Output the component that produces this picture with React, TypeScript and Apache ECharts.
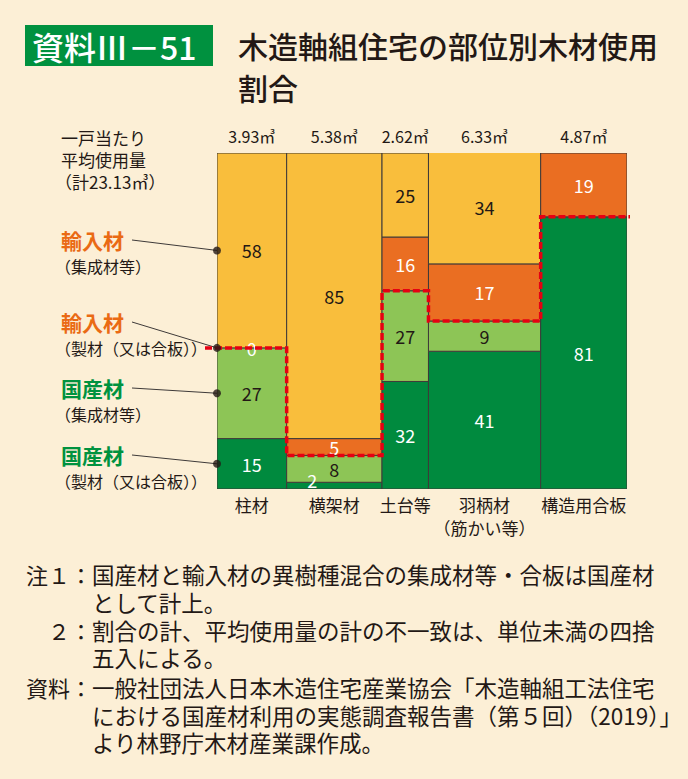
import React, { useEffect, useRef } from "react";
import * as echarts from "echarts";

// ---------- data ----------
const categories = ["柱材", "横架材", "土台等", "羽柄材", "構造用合板"];
const categorySubLabels = ["", "", "", "（筋かい等）", ""];
const volumes = [3.93, 5.38, 2.62, 6.33, 4.87]; // ㎥ per house
const volumeTotalLabel = "23.13";
// shares (%) from bottom to top
const domesticSawn = [15, 2, 32, 41, 81]; // 国産材 製材（又は合板）
const domesticGlulam = [27, 8, 27, 9, null]; // 国産材 集成材等
const importedSawn = [0, 5, 16, 17, 19]; // 輸入材 製材（又は合板）
const importedGlulam = [58, 85, 25, 34, null]; // 輸入材 集成材等

const layers = [domesticSawn, domesticGlulam, importedSawn, importedGlulam];
const layerColors = ["#008A3E", "#8DC556", "#EA6E22", "#F9BE3C"];
const layerTextColors = ["#ffffff", "#231815", "#ffffff", "#231815"];

const FONT = "'Noto Sans CJK JP', 'Noto Sans', sans-serif";
const DARK = "#231815";
const ORANGE = "#EA6A14";
const GREEN = "#00923F";

export default function App() {
  const ref = useRef<HTMLDivElement>(null);

  useEffect(() => {
    if (!ref.current) return;
    const chart = echarts.init(ref.current, null, { renderer: "svg" });

    // cumulative column edges
    const edges: number[] = [0];
    volumes.forEach((v, i) => edges.push(edges[i] + v));
    const total = edges[edges.length - 1];

    // mosaic cells
    const cells: any[] = [];
    categories.forEach((_, i) => {
      let base = 0;
      layers.forEach((arr, k) => {
        const v = arr[i];
        if (v === null || v === undefined) return;
        cells.push([edges[i], edges[i + 1], base, base + v, v, k]);
        base += v;
      });
    });

    const columns = categories.map((_, i) => [edges[i], edges[i + 1], i]);

    const domestic = categories.map(
      (_, i) => (domesticSawn[i] || 0) + (domesticGlulam[i] || 0)
    );

    // marker positions: middle of each layer in first column
    const markerY: number[] = [];
    {
      let base = 0;
      layers.forEach((arr) => {
        const v = arr[0] || 0;
        markerY.push(base + v / 2);
        base += v;
      });
    }

    const t = (text: string, x: number, y: number, opts: any = {}) => ({
      type: "text",
      x,
      y,
      silent: true,
      style: {
        text,
        fill: opts.fill || DARK,
        fontSize: opts.fontSize || 16,
        fontWeight: opts.fontWeight || "normal",
        fontFamily: FONT,
        align: opts.align || "left",
        verticalAlign: "middle",
        textAlign: opts.align || "left",
        textVerticalAlign: "middle",
      },
    });

    const option: any = {
      animation: false,
      backgroundColor: "#FCEFD6",
      textStyle: { fontFamily: FONT },
      grid: { left: 217, right: 61, top: 153, bottom: 290 },
      xAxis: {
        type: "value",
        min: 0,
        max: total,
        show: false,
      },
      yAxis: {
        type: "value",
        min: 0,
        max: 100,
        show: false,
      },
      series: [
        {
          type: "custom",
          name: "mosaic",
          clip: true,
          z: 2,
          data: cells,
          encode: { x: [0, 1], y: [2, 3] },
          renderItem: (params: any, api: any) => {
            const x0 = api.value(0);
            const x1 = api.value(1);
            const y0 = api.value(2);
            const y1 = api.value(3);
            const v = api.value(4);
            const k = api.value(5);
            const p0 = api.coord([x0, y1]);
            const p1 = api.coord([x1, y0]);
            const cx = (p0[0] + p1[0]) / 2;
            let cy = (p0[1] + p1[1]) / 2;
            let dx = 0;
            if (v > 0 && v <= 2) {
              dx = -22;
              cy -= 6;
            }
            const children: any[] = [];
            if (v > 0) {
              children.push({
                type: "rect",
                shape: {
                  x: p0[0],
                  y: p0[1],
                  width: p1[0] - p0[0],
                  height: p1[1] - p0[1],
                },
                style: {
                  fill: layerColors[k],
                  stroke: "#3E3A39",
                  lineWidth: 1,
                },
              });
            }
            children.push({
              type: "text",
              x: cx + dx,
              y: cy,
              z2: 10,
              style: {
                text: String(v),
                fill: layerTextColors[k],
                fontSize: 18,
                fontFamily: FONT,
                align: "center",
                verticalAlign: "middle",
                textAlign: "center",
                textVerticalAlign: "middle",
              },
            });
            return { type: "group", children };
          },
        },
        {
          type: "custom",
          name: "columnLabels",
          clip: false,
          z: 3,
          data: columns,
          encode: { x: [0, 1] },
          renderItem: (params: any, api: any) => {
            const i = api.value(2);
            const mid = (api.value(0) + api.value(1)) / 2;
            const top = api.coord([mid, 100]);
            const bottom = api.coord([mid, 0]);
            const children: any[] = [
              {
                type: "text",
                x: top[0],
                y: top[1] - 17,
                style: {
                  text: `${volumes[i].toFixed(2)}㎥`,
                  fill: DARK,
                  fontSize: 16,
                  fontFamily: FONT,
                  align: "center",
                  verticalAlign: "middle",
                  textAlign: "center",
                  textVerticalAlign: "middle",
                },
              },
              {
                type: "text",
                x: bottom[0],
                y: bottom[1] + 15,
                style: {
                  text: categories[i],
                  fill: DARK,
                  fontSize: 17,
                  fontFamily: FONT,
                  align: "center",
                  verticalAlign: "middle",
                  textAlign: "center",
                  textVerticalAlign: "middle",
                },
              },
            ];
            if (categorySubLabels[i]) {
              children.push({
                type: "text",
                x: bottom[0],
                y: bottom[1] + 38,
                style: {
                  text: categorySubLabels[i],
                  fill: DARK,
                  fontSize: 17,
                  fontFamily: FONT,
                  align: "center",
                  verticalAlign: "middle",
                  textAlign: "center",
                  textVerticalAlign: "middle",
                },
              });
            }
            return { type: "group", children };
          },
        },
        {
          type: "custom",
          name: "boundary",
          clip: false,
          z: 4,
          data: [[0, 0]],
          renderItem: (params: any, api: any) => {
            const pts: number[][] = [];
            domestic.forEach((d, i) => {
              const a = api.coord([edges[i], d]);
              const b = api.coord([edges[i + 1], d]);
              if (i === 0) a[0] -= 12;
              if (i === domestic.length - 1) b[0] += 3;
              pts.push(a, b);
            });
            return {
              type: "polyline",
              shape: { points: pts },
              style: {
                stroke: "#E60012",
                lineWidth: 3.5,
                lineDash: [7, 3],
                fill: "none",
              },
            };
          },
        },
        {
          type: "scatter",
          name: "markers",
          clip: false,
          z: 5,
          symbolSize: 8,
          itemStyle: { color: DARK },
          data: markerY.map((y) => [0, y]),
          silent: true,
        },
      ],
    };

    chart.setOption(option);

    // annotation graphics
    const dotPx = markerY.map((y) => chart.convertToPixel({ gridIndex: 0 }, [0, y]));
    const legendLabels = [
      { main: "国産材", sub: "（製材（又は合板））", color: GREEN, y: 455 },
      { main: "国産材", sub: "（集成材等）", color: GREEN, y: 388 },
      { main: "輸入材", sub: "（製材（又は合板））", color: ORANGE, y: 322 },
      { main: "輸入材", sub: "（集成材等）", color: ORANGE, y: 240 },
    ];

    const graphics: any[] = [
      {
        type: "rect",
        shape: { x: 25, y: 25, width: 188, height: 41 },
        style: { fill: "#00913F" },
      },
      t("資料Ⅲ－51", 32, 46, { fill: "#ffffff", fontSize: 32, fontWeight: 500 }),
      t("木造軸組住宅の部位別木材使用", 238, 45, { fontSize: 30, fontWeight: 500 }),
      t("割合", 238, 87, { fontSize: 30, fontWeight: 500 }),
      t("一戸当たり", 61, 137, { fontSize: 17 }),
      t("平均使用量", 61, 159, { fontSize: 17 }),
      t(`（計${volumeTotalLabel}㎥）`, 55, 181, { fontSize: 17 }),
    ];
    legendLabels.forEach((l, idx) => {
      graphics.push(t(l.main, 61, l.y, { fill: l.color, fontSize: 21, fontWeight: "bold" }));
      graphics.push(t(l.sub, 55, l.y + 26, { fontSize: 16 }));
      const p = dotPx[idx];
      graphics.push({
        type: "line",
        shape: { x1: 132, y1: l.y, x2: p[0], y2: p[1] },
        style: { stroke: "#3E3A39", lineWidth: 1 },
        z: 1,
      });
    });

    const notes: [string, number, string, number][] = [
      ["注１：", 26, "国産材と輸入材の異樹種混合の集成材等・合板は国産材", 574],
      ["", 0, "として計上。", 602],
      ["２：", 48, "割合の計、平均使用量の計の不一致は、単位未満の四捨", 630],
      ["", 0, "五入による。", 657],
      ["資料：", 26, "一般社団法人日本木造住宅産業協会「木造軸組工法住宅", 687],
      ["", 0, "における国産材利用の実態調査報告書（第５回）（2019）」", 715],
      ["", 0, "より林野庁木材産業課作成。", 742],
    ];
    notes.forEach(([head, hx, body, y]) => {
      if (head) graphics.push(t(head, hx, y, { fontSize: 22 }));
      graphics.push(t(body, 92, y, { fontSize: 22.5 }));
    });

    chart.setOption({ graphic: graphics });

    return () => chart.dispose();
  }, []);

  return (
    <div
      ref={ref}
      style={{ position: "absolute", left: 0, top: 0, width: 688, height: 779 }}
    />
  );
}
